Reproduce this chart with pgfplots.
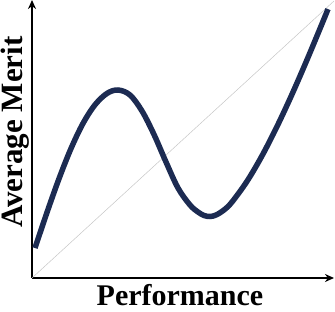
\documentclass[border=0pt]{standalone}
\usepackage{fontspec}
\setmainfont{Liberation Serif}
\usepackage{pgfplots}
\pgfplotsset{compat=1.18}
\usetikzlibrary{arrows.meta}
\definecolor{navy}{HTML}{1C2B52}
\begin{document}
\begin{tikzpicture}
\useasboundingbox (-32pt,-33pt) rectangle (303pt,278pt);
\begin{axis}[
  scale only axis, width=302pt, height=278pt,
  xmin=0, xmax=302, ymin=0, ymax=278,
  axis lines=left,
  axis line style={line width=2pt, -{Stealth[length=9pt,width=8pt]}},
  xtick=\empty, ytick=\empty,
  clip=false,
]
\addplot[gray!45, line width=0.5pt] coordinates {(0,0) (302,277)};
\addplot[navy, line width=5.5pt, smooth, tension=0.55] coordinates {
(3,30) (15,65.6) (27,99.3) (39,129.5) (51,154.6) (63,173.2) (75,184.6) (86,188)
(98,183) (110,167) (122,143.5) (134,116) (146,90) (158,73) (166,66) (172,62.5) (178,61.5) (184,63)
(192,68) (200,76) (215,96.7) (230,122.2) (245,151.5) (260,183.7) (275,218.2) (290,254.2) (296,268.9)};
\node[font=\fontsize{30}{31}\selectfont\bfseries, anchor=base] at (axis cs:148,-27) {Performance};
\node[font=\fontsize{31}{32}\selectfont\bfseries, rotate=90, anchor=base] at (axis cs:-9,146) {Average Merit};
\end{axis}
\end{tikzpicture}
\end{document}
